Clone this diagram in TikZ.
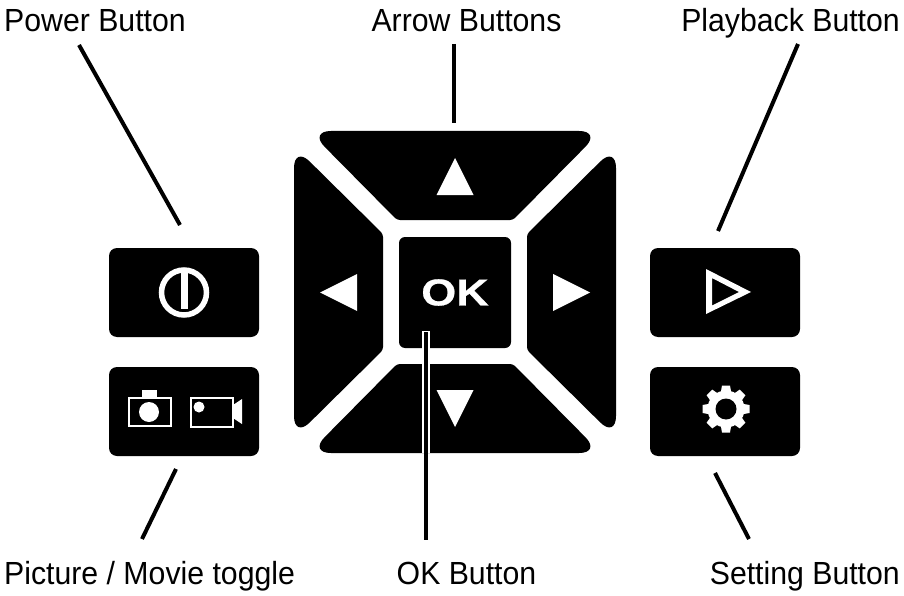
\documentclass[tikz,border=0pt]{standalone}
\usepackage{fontspec}
\setmainfont[FakeStretch=0.945]{Liberation Sans}
\newfontfamily\okfont[FakeStretch=1.2,FakeBold=0.6]{Liberation Sans}
\begin{document}
\begin{tikzpicture}[line join=miter,x=1pt,y=-1pt,
    caption/.style={inner sep=0pt,font=\fontsize{32}{32}\selectfont},
    leader/.style={line width=4pt},
    pad/.style={fill=black,rounded corners=8pt,inner sep=0pt,minimum width=150pt,minimum height=89pt},
    outline/.style={draw=white,line width=2pt},
    glyph/.style={fill=white}]
\useasboundingbox (0, 0) rectangle (904, 596);

\coordinate (PowerTop) at (79, 45);
\coordinate (PowerEnd) at (180, 225);
\coordinate (ArrowTop) at (454, 44);
\coordinate (ArrowEnd) at (454, 123);
\coordinate (PlayTop) at (798, 44);
\coordinate (PlayEnd) at (718, 231);
\coordinate (ToggleEnd) at (176, 469);
\coordinate (ToggleLow) at (142, 539);
\coordinate (SettingEnd) at (715, 473);
\coordinate (SettingLow) at (749, 539);
\coordinate (OkEnd) at (426, 331);
\coordinate (OkHalo) at (426, 453);
\coordinate (OkLow) at (426, 540);

\node[caption,anchor=base west] (PowerLabel) at (4, 32) {Power Button};
\node[caption,anchor=base] (ArrowLabel) at (466.5, 32) {Arrow Buttons};
\node[caption,anchor=base east] (PlayLabel) at (900, 32) {Playback Button};
\node[caption,anchor=base west] (ToggleLabel) at (4, 584) {Picture / Movie toggle};
\node[caption,anchor=base] (OkLabel) at (466.5, 584) {OK Button};
\node[caption,anchor=base east] (SettingLabel) at (900, 584) {Setting Button};

\draw[leader] (PowerTop) -- (PowerEnd);
\draw[leader] (ArrowTop) -- (ArrowEnd);
\draw[leader] (PlayTop) -- (PlayEnd);
\draw[leader] (ToggleEnd) -- (ToggleLow);
\draw[leader] (SettingEnd) -- (SettingLow);

\node[pad] (Power) at (184, 292.5) {};
\node[pad] (Toggle) at (184, 411.5) {};
\node[pad] (Play) at (725, 292.5) {};
\node[pad] (Setting) at (725, 411.5) {};

\fill[rounded corners=22pt] (309, 131) -- (601, 131) [rounded corners=3pt] -- (513, 220) -- (397, 220) [rounded corners=22pt] -- cycle;
\fill[rounded corners=22pt] (309, 453) -- (601, 453) [rounded corners=3pt] -- (513, 364) -- (397, 364) [rounded corners=22pt] -- cycle;
\fill[rounded corners=22pt] (294, 146) -- (294, 438) [rounded corners=3pt] -- (383, 350) -- (383, 234) [rounded corners=22pt] -- cycle;
\fill[rounded corners=22pt] (616, 146) -- (616, 438) [rounded corners=3pt] -- (527, 350) -- (527, 234) [rounded corners=22pt] -- cycle;

\node[pad,minimum width=112pt,minimum height=111pt,text=white,rounded corners=6pt] (Ok) at (455, 292.5) {\okfont\bfseries\fontsize{37.5}{37.5}\selectfont OK};

\fill[glyph] (455, 158) -- (473.5, 195) -- (436.5, 195) -- cycle;
\fill[glyph] (455, 427) -- (473.5, 390) -- (436.5, 390) -- cycle;
\fill[glyph] (320, 292.5) -- (357, 274) -- (357, 311) -- cycle;
\fill[glyph] (590, 292.5) -- (553, 274) -- (553, 311) -- cycle;

\draw[white,line width=8pt] (OkEnd) -- (OkHalo);
\draw[leader] (OkEnd) ++(0, 1) -- (OkLow);

\draw[white,line width=5.5pt] (184, 292.5) circle (22.5);
\fill[glyph] (180.5, 273) rectangle (187.5, 309);

\draw[outline] (128.5, 397.5) rectangle (170.5, 426);
\fill[glyph] (142, 390) rectangle (157, 397);
\fill[glyph] (149, 412) circle (10);
\draw[outline] (190.5, 397.5) rectangle (232.5, 426.5);
\fill[glyph] (199, 407) circle (5.5);
\fill[glyph] (233, 405) -- (242, 399) -- (242, 424) -- (233, 418) -- cycle;

\fill[glyph,even odd rule] (706, 269) -- (751, 292) -- (706, 314) -- cycle (712, 278) -- (739, 292) -- (712, 305.5) -- cycle;

\fill[glyph] (726, 409) circle (18.5);
\foreach \a in {0, 45, ..., 315}
  \fill[glyph,rotate around={\a:(726, 409)}] (720.5, 394) -- (722, 385.5) -- (730, 385.5) -- (731.5, 394) -- cycle;
\fill[black] (726, 409) circle (10.5);
\end{tikzpicture}
\end{document}
